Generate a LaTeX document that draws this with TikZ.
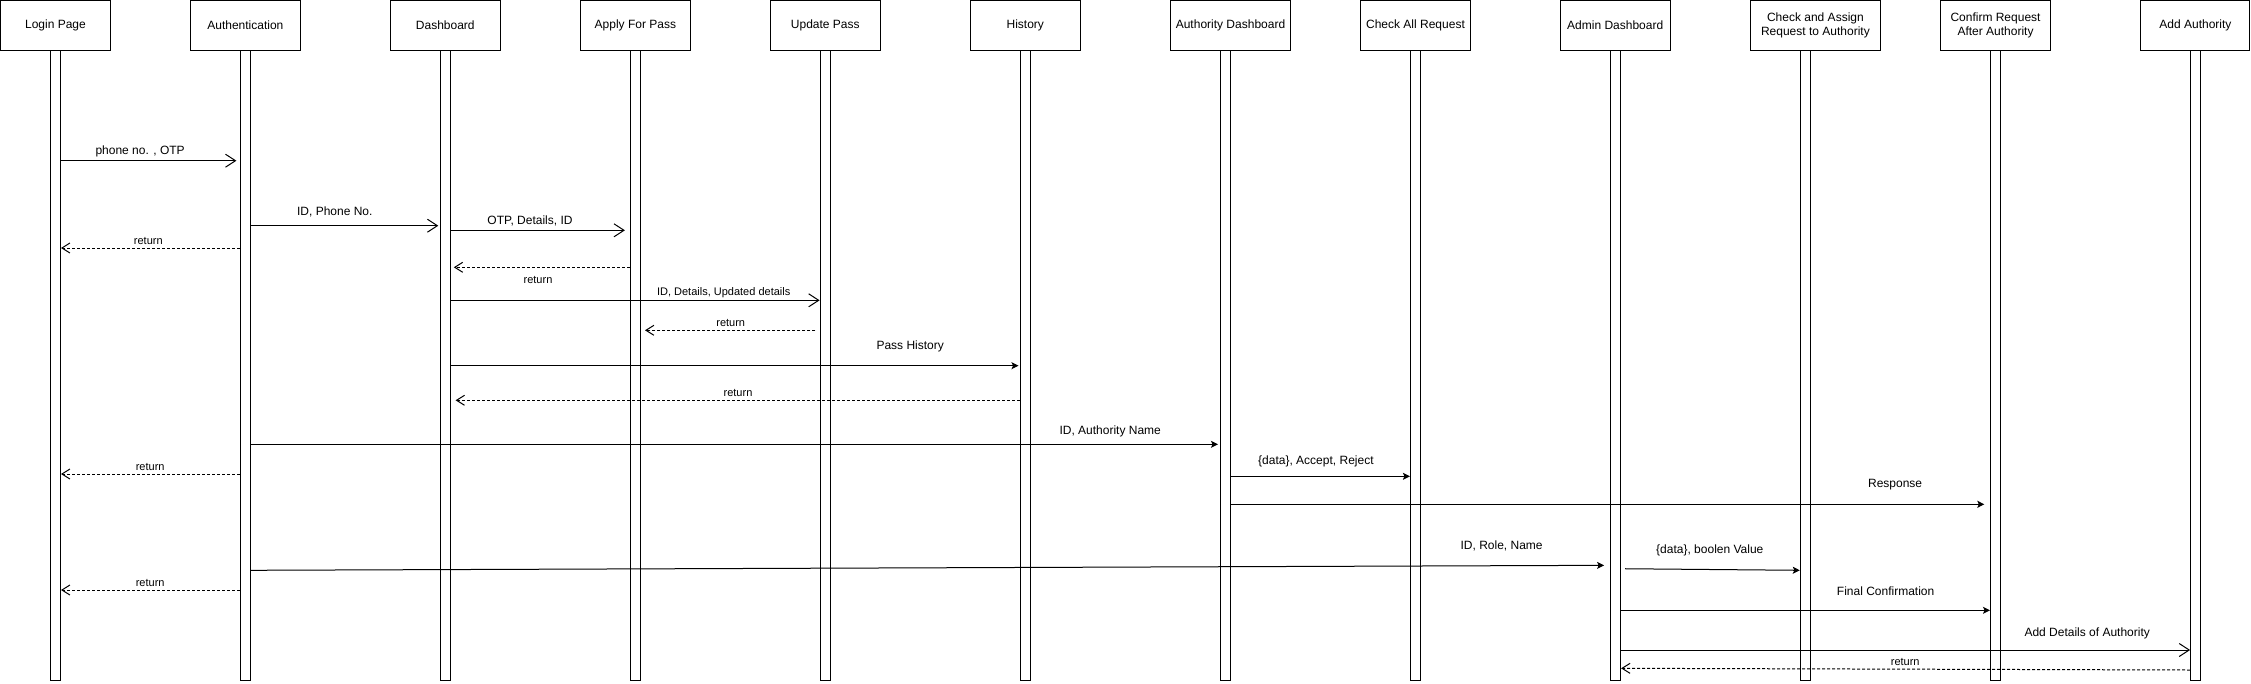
\documentclass[tikz,border=0pt]{standalone}
\usepackage{fontspec}
\setmainfont{Liberation Sans}
\usetikzlibrary{arrows.meta}
\begin{document}
\begin{tikzpicture}[x=1pt,y=-1pt,
  head/.style={draw, line width=1pt, fill=white, minimum height=50pt, inner sep=0pt, align=center, font=\fontsize{12}{14}\selectfont},
  bar/.style={draw, line width=1pt, fill=white, minimum width=10pt, minimum height=629.5pt, inner sep=0pt},
  msg/.style={line width=1pt, -{Straight Barb[length=10pt,width=13pt]}},
  sync/.style={line width=1pt, -{Stealth[length=7pt,width=7pt,inset=1.5pt]}},
  ret/.style={line width=1pt, dash pattern=on 3pt off 2pt, -{Straight Barb[length=8pt,width=10pt]}},
  lbl/.style={inner sep=0pt, yshift=-1.5pt, font=\fontsize{12}{14}\selectfont},
  slbl/.style={inner sep=0pt, yshift=-1.5pt, font=\fontsize{11}{13}\selectfont},
]
\useasboundingbox[fill=white] (0,0) rectangle (2251,683);

% headers
\node[head, minimum width=110pt] (hLogin) at (55.5,25.5) {Login Page};
\node[head, minimum width=110pt] (hAuth)  at (245.4,25.5) {Authentication};
\node[head, minimum width=110pt] (hDash)  at (445.3,25.5) {Dashboard};
\node[head, minimum width=110pt] (hApply) at (635.4,25.5) {Apply For Pass};
\node[head, minimum width=110pt] (hUpd)   at (825.3,25.5) {Update Pass};
\node[head, minimum width=110pt] (hHist)  at (1025.3,25.5) {History};
\node[head, minimum width=120pt] (hAD)    at (1230.5,25.5) {Authority Dashboard};
\node[head, minimum width=110pt] (hCAR)   at (1415.5,25.5) {Check All Request};
\node[head, minimum width=110pt] (hAdmin) at (1615.2,25.5) {Admin Dashboard};
\node[head, minimum width=130pt] (hCA)    at (1815.4,25.5) {Check and Assign\\Request to Authority};
\node[head, minimum width=110pt] (hConf)  at (1995.5,25.5) {Confirm Request\\After Authority};
\node[head, minimum width=109pt] (hAdd)   at (2195.4,25.5) {Add Authority};

% lifelines
\node[bar] (bLogin) at (55.5,365.25) {};
\node[bar] (bAuth)  at (245.4,365.25) {};
\node[bar] (bDash)  at (445.3,365.25) {};
\node[bar] (bApply) at (635.2,365.25) {};
\node[bar] (bUpd)   at (825.1,365.25) {};
\node[bar] (bHist)  at (1025,365.25) {};
\node[bar] (bAD)    at (1225.5,365.25) {};
\node[bar] (bCAR)   at (1415.4,365.25) {};
\node[bar] (bAdmin) at (1615.6,365.25) {};
\node[bar] (bCA)    at (1805.3,365.25) {};
\node[bar] (bConf)  at (1995.5,365.25) {};
\node[bar] (bAdd)   at (2195.6,365.25) {};

% messages
\draw[msg, shorten >=3.5pt] (bLogin.east |- 0,160.7) -- (bAuth.west |- 0,160.7);
\node[lbl] (l1) at (140.1,149.7) {phone no. , OTP};

\draw[msg, shorten >=1.5pt] (bAuth.east |- 0,225.7) -- (bDash.west |- 0,225.7);
\node[lbl] (l2) at (334.8,210) {ID, Phone No.};

\draw[ret] (bAuth.west |- 0,248) -- (bLogin.east |- 0,248);
\node[slbl] (l3) at (148.3,239) {return};

\draw[msg, shorten >=4.8pt] (bDash.east |- 0,230.3) -- (bApply.west |- 0,230.3);
\node[lbl] (l4) at (530,219.7) {OTP, Details, ID};

\draw[ret, shorten >=3pt] (bApply.west |- 0,267.3) -- (bDash.east |- 0,267.3);
\node[slbl] (l5) at (538,278) {return};

\draw[msg] (bDash.east |- 0,300.3) -- (bUpd.west |- 0,300.3);
\node[slbl] (l6) at (723.7,291) {ID, Details, Updated details};

\draw[ret, shorten <=4.3pt, shorten >=4.3pt] (bUpd.west |- 0,330.3) -- (bApply.east |- 0,330.3);
\node[slbl] (l7) at (730.7,321.3) {return};

\draw[sync, shorten >=1pt] (bDash.east |- 0,365.7) -- (bHist.west |- 0,365.7);
\node[lbl] (l8) at (910.2,344.7) {Pass History};

\draw[ret, shorten >=4.8pt] (bHist.west |- 0,400.3) -- (bDash.east |- 0,400.3);
\node[slbl] (l9) at (738,391) {return};

\draw[sync, shorten >=2pt] (bAuth.east |- 0,444.3) -- (bAD.west |- 0,444.3);
\node[lbl] (l10) at (1110.2,430) {ID, Authority Name};

\draw[ret] (bAuth.west |- 0,474) -- (bLogin.east |- 0,474);
\node[slbl] (l11) at (150.2,465) {return};

\draw[sync] (bAD.east |- 0,476.3) -- (bCAR.west |- 0,476.3);
\node[lbl] (l12) at (1315.9,460) {\{data\}, Accept, Reject};

\draw[sync, shorten >=5.7pt] (bAD.east |- 0,504.3) -- (bConf.west |- 0,504.3);
\node[lbl] (l13) at (1895.1,483.3) {Response};

\draw[sync, shorten >=6pt] (bAuth.east |- 0,570.3) -- (bAdmin.west |- 0,565.3);
\node[lbl] (l14) at (1501.6,544) {ID, Role, Name};

\draw[ret] (bAuth.west |- 0,590) -- (bLogin.east |- 0,590);
\node[slbl] (l15) at (150.2,581.3) {return};

\draw[sync, shorten <=4pt] (bAdmin.east |- 0,568.7) -- (bCA.west |- 0,570.3);
\node[lbl] (l16) at (1709.8,549.3) {\{data\}, boolen Value};

\draw[sync] (bAdmin.east |- 0,610.3) -- (bConf.west |- 0,610.3);
\node[lbl] (l17) at (1885.6,590) {Final Confirmation};

\draw[msg] (bAdmin.east |- 0,650) -- (bAdd.west |- 0,650);
\node[lbl] (l18) at (2087.2,632.3) {Add Details of Authority};

\draw[ret] (bAdd.west |- 0,670) -- (bAdmin.east |- 0,668.3);
\node[slbl] (l19) at (1905.2,660) {return};
\end{tikzpicture}
\end{document}
